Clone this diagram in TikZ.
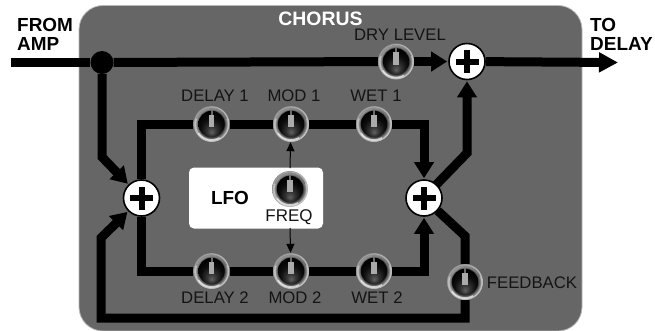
\documentclass[tikz,border=0pt]{standalone}
\usepackage{fontspec}
\setmainfont{Liberation Sans}
\usetikzlibrary{arrows.meta,backgrounds}
\definecolor{panel}{HTML}{666666}
\definecolor{panelrim}{HTML}{B8B8B8}
\definecolor{labelink}{HTML}{141414}
\pgfdeclareradialshading{knobring}{\pgfpoint{0bp}{0bp}}{
  color(0bp)=(black);color(17.5bp)=(black!85);color(19bp)=(black!65);color(21bp)=(black!50);color(22.5bp)=(black!25);color(23.5bp)=(black!18);color(25bp)=(black!45);color(50bp)=(black!45)}
\pgfdeclareradialshading{knobcap}{\pgfpoint{0bp}{-16bp}}{
  color(0bp)=(black!62);color(9bp)=(black!80);color(20bp)=(black!95);color(30bp)=(black);color(50bp)=(black)}
\tikzset{
  sig/.style={line width=9bp,draw=black},
  sigarrow/.style={sig,-{Triangle[length=16bp,width=19bp]},shorten >=1bp},
  thinarrow/.style={line width=1bp,draw=black,-{Triangle[length=9bp,width=8bp]}},
  lbl/.style={font=\fontsize{16.8}{18}\selectfont,text=labelink,inner sep=0pt},
  head/.style={font=\fontsize{19}{19}\selectfont\bfseries,inner sep=0pt,align=left,anchor=west},
  sumnode/.style={circle,minimum size=36bp,inner sep=0pt,fill=white,draw=black,line width=1.6bp,
    path picture={
      \fill[black] ([xshift=-11.5bp,yshift=-3bp]path picture bounding box.center) rectangle ++(23bp,6bp);
      \fill[black] ([xshift=-3bp,yshift=-11.5bp]path picture bounding box.center) rectangle ++(6bp,23bp);
    }},
  knobnode/.style={circle,minimum size=36bp,inner sep=0pt,shading=knobring,
    path picture={
      \coordinate (kc) at (path picture bounding box.center);
      \draw[white,line width=1.6bp,opacity=.6] ([shift={(215:16bp)}]kc) arc[start angle=215,end angle=300,radius=16bp];
      \draw[black,line width=1.4bp,opacity=.25] ([shift={(20:16bp)}]kc) arc[start angle=20,end angle=160,radius=16bp];
      \shade[shading=knobcap] (kc) circle (13.2bp);
      \fill[black!33] ([xshift=-2.8bp,yshift=-3bp]kc) rectangle ++(5.6bp,12.5bp);
      \fill[black!58] ([xshift=-1bp,yshift=9.5bp]kc) rectangle ++(2bp,5bp);
    }},
}
\begin{document}
\begin{tikzpicture}[x=1bp,y=-1bp]
\useasboundingbox (0,0) rectangle (655,330);
% summing points and junction
\node[sumnode] (summain) at (467,61.5) {};
\node[sumnode] (sumleft) at (141.5,198) {};
\node[sumnode] (sumright) at (424,198) {};
\node[circle,fill=black,minimum size=23bp,inner sep=0pt] (junction) at (102,62.5) {};
% LFO box
\node[draw=none,fill=white,rounded corners=5bp,minimum width=134bp,minimum height=61bp,inner sep=0pt] (lfo) at (256,198) {};
% knobs
\node[knobnode] (dry) at (396,61.5) {};
\node[knobnode] (delayone) at (211.5,124) {};
\node[knobnode] (modone) at (291,124) {};
\node[knobnode] (wetone) at (374,124) {};
\node[knobnode] (freq) at (290,189) {};
\node[knobnode] (delaytwo) at (211.5,271) {};
\node[knobnode] (modtwo) at (291,271) {};
\node[knobnode] (wettwo) at (374,271) {};
\node[knobnode] (feedback) at (465,282) {};
% labels
\node[head,text=white,anchor=center,font=\fontsize{19.5}{20}\selectfont\bfseries] (chorus) at (320.5,19) {CHORUS};
\node[head] (fromamp) at (17,34) {FROM\\AMP};
\node[head] (todelay) at (590,34) {TO\\DELAY};
\node[lbl] (drylabel) at (400,35) {DRY LEVEL};
\node[lbl] (d1label) at (215,96) {DELAY 1};
\node[lbl] (m1label) at (294,96) {MOD 1};
\node[lbl] (w1label) at (376,96) {WET 1};
\node[lbl] (d2label) at (215,298) {DELAY 2};
\node[lbl] (m2label) at (295,298) {MOD 2};
\node[lbl] (w2label) at (377,298) {WET 2};
\node[lbl] (fblabel) at (532,283) {FEEDBACK};
\node[lbl,font=\fontsize{17}{18}\selectfont] (freqlabel) at (289,217) {FREQ};
\node[head,anchor=center] (lfolabel) at (230,198) {LFO};
% free ends and bends
\coordinate (ampin) at (11,62.5);
\coordinate (delayout) at (618,62.5);
\coordinate (leftbend) at (102,157);
\coordinate (topleft) at (141.5,124);
\coordinate (topright) at (424,124);
\coordinate (botleft) at (141.5,271);
\coordinate (botright) at (424,271);
\coordinate (upbend) at (467,153);
\coordinate (rightdiag) at (435,186);
\coordinate (fbbend) at (465,236);
\coordinate (botrun) at (465,318);
\coordinate (botrunleft) at (101,318);
\coordinate (fbup) at (101,238);
\coordinate (lfotop) at (290,168);
\coordinate (lfobot) at (290,228);
\begin{scope}[on background layer]
  \filldraw[fill=panel,draw=panelrim,line width=.8bp,rounded corners=24bp] (79,5.5) rectangle (582,331);
  \draw[sig] (ampin) -- (junction);
  \draw[sig] (junction) -- (dry);
  \draw[sigarrow] (dry) -- (summain);
  \draw[sig,-{Triangle[length=19bp,width=19bp]},shorten >=0pt] (summain) -- (delayout);
  \draw[sigarrow] (junction) -- (leftbend) -- (sumleft);
  \draw[sig] (sumleft) -- (topleft) -- (delayone);
  \draw[sig] (delayone) -- (modone);
  \draw[sig] (modone) -- (wetone);
  \draw[sigarrow] (wetone) -- (topright) -- (sumright);
  \draw[sig] (sumleft) -- (botleft) -- (delaytwo);
  \draw[sig] (delaytwo) -- (modtwo);
  \draw[sig] (modtwo) -- (wettwo);
  \draw[sigarrow] (wettwo) -- (botright) -- (sumright);
  \draw[sigarrow] (rightdiag) -- (upbend) -- (summain);
  \draw[sig] (sumright) -- (fbbend) -- (feedback);
  \draw[sigarrow] (feedback) -- (botrun) -- (botrunleft) -- (fbup) -- (sumleft);
\end{scope}
\draw[thinarrow] (lfotop) -- (modone);
\draw[thinarrow] (lfobot) -- (modtwo);
\end{tikzpicture}
\end{document}
